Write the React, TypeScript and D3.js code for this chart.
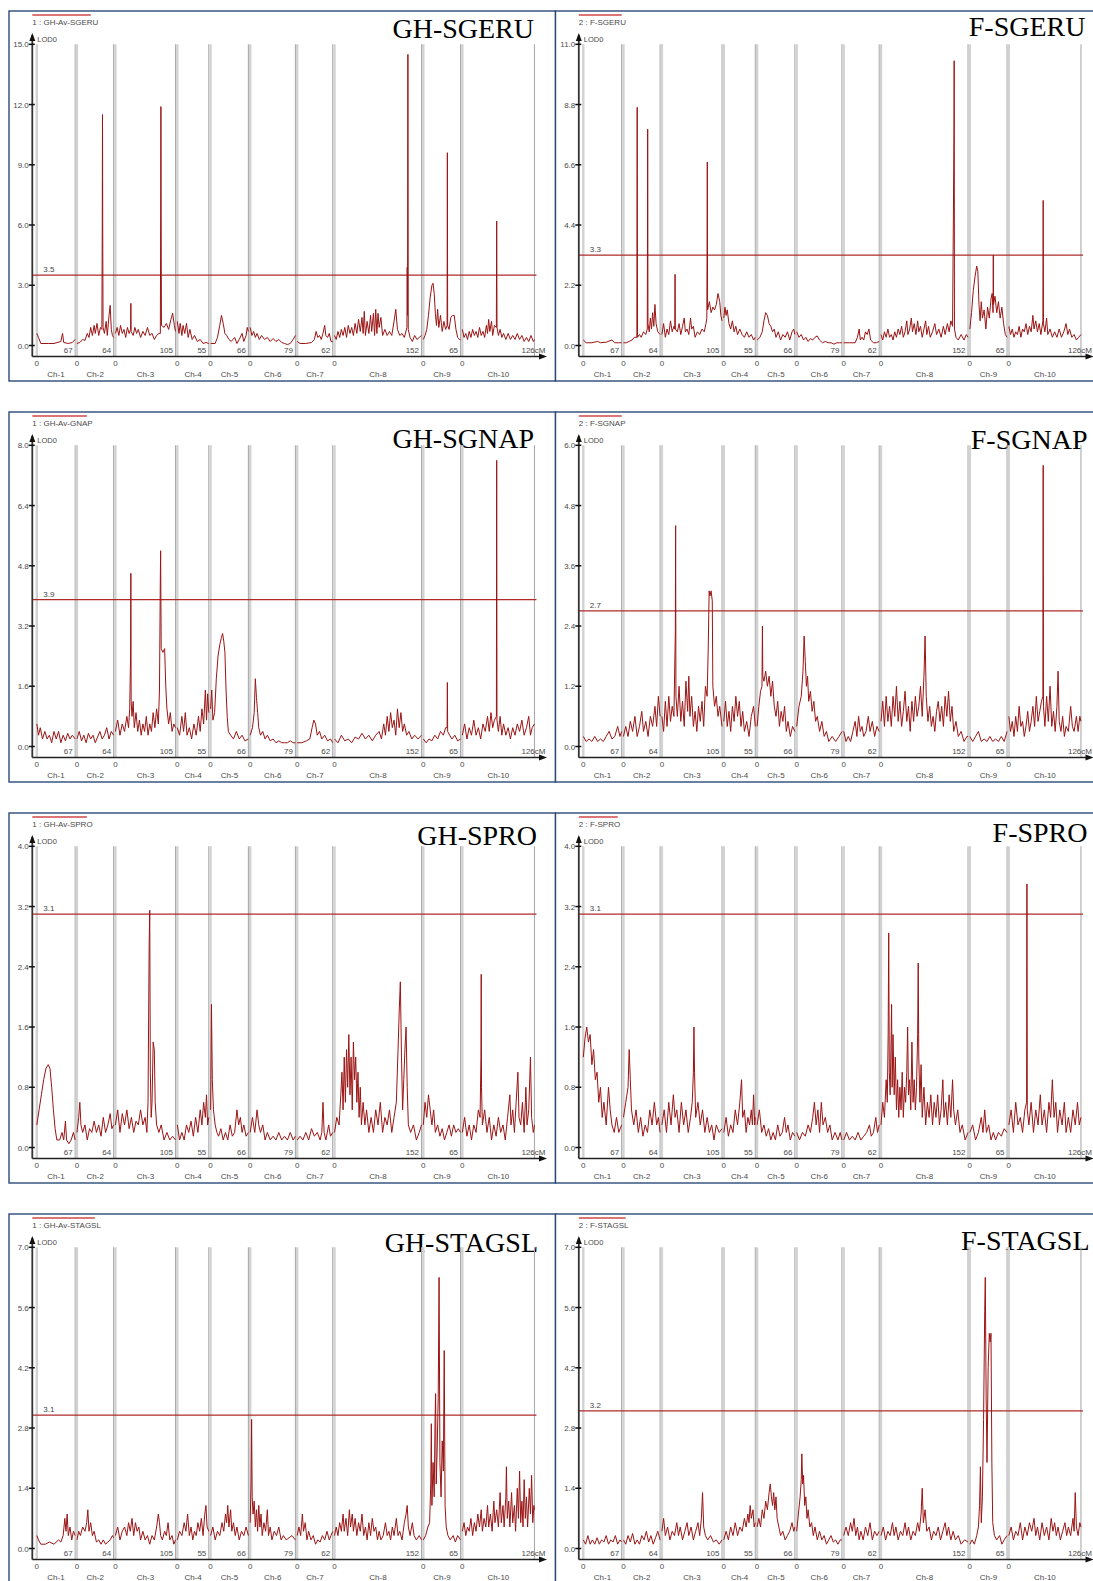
import * as d3 from "d3";

// chromosome map (cM) shared by all panels
const chromLengths = [67, 64, 105, 55, 66, 79, 62, 152, 65, 126];
const chromNames = ["Ch-1", "Ch-2", "Ch-3", "Ch-4", "Ch-5", "Ch-6", "Ch-7", "Ch-8", "Ch-9", "Ch-10"];

const panelTitles = ["GH-SGERU", "F-SGERU", "GH-SGNAP", "F-SGNAP", "GH-SPRO", "F-SPRO", "GH-STAGSL", "F-STAGSL"];
const traitLabels = [
  "1 : GH-Av-SGERU", "2 : F-SGERU", "1 : GH-Av-GNAP", "2 : F-SGNAP",
  "1 : GH-Av-SPRO", "2 : F-SPRO", "1 : GH-Av-STAGSL", "2 : F-STAGSL",
];
const lodMax = [15, 11, 8, 6, 4, 4, 7, 7];
const lodThresholds = [3.5, 3.3, 3.9, 2.7, 3.1, 3.1, 3.1, 3.2];

// LOD profiles: per chromosome, flat list of (position cM, LOD) pairs
const ghSgeru: number[][] = [
  [0,0.6, 3,0.4, 7,0.1, 20,0.1, 30,0.1, 42,0.2, 45,0.6, 47,0.15, 55,0.1, 62,0.15, 67,0.3],
  [0,0.1, 5,0.15, 10,0.3, 14,0.25, 18,0.6, 21,0.4, 24,0.9, 27,0.5, 30,1.0, 32,0.6, 35,1.1, 38,0.5, 41,0.9, 43.5,0.8, 44.2,5.8, 44.6,11.5, 45,5.8, 45.6,0.9, 48,0.6, 51,1.2, 53,0.5, 56,1.5, 58,2.0, 60,0.8, 62,0.5, 64,0.4],
  [0,0.6, 3,0.9, 6,0.5, 9,1.0, 12,0.6, 15,0.8, 18,0.4, 21,0.9, 24,0.6, 26.5,0.8, 27,2.1, 27.5,0.7, 31,0.5, 34,0.9, 37,0.6, 40,0.8, 44,0.4, 48,0.7, 52,0.5, 56,0.9, 60,0.5, 64,0.6, 68,0.3, 72,0.5, 76,0.6, 78.5,0.6, 79.1,6.3, 79.5,11.9, 79.9,6.3, 80.5,1.0, 85,0.9, 89,1.1, 93,0.8, 97,1.3, 100,1.6, 103,1.0, 105,0.7],
  [0,1.2, 3,0.6, 5,1.1, 8,0.5, 10,1.0, 13,0.6, 16,1.1, 19,0.4, 22,0.8, 26,0.3, 30,0.5, 35,0.2, 40,0.3, 45,0.1, 50,0.15, 55,0.1],
  [0,0.1, 8,0.1, 12,0.4, 16,1.0, 19,1.5, 22,1.1, 25,0.6, 28,0.5, 32,0.3, 36,0.2, 42,0.4, 46,0.1, 50,0.3, 55,0.6, 58,0.2, 62,0.5, 64,0.9, 66,0.7],
  [0,0.9, 3,0.5, 6,0.7, 9,0.4, 12,0.6, 16,0.3, 20,0.5, 25,0.3, 30,0.4, 35,0.2, 40,0.35, 45,0.2, 50,0.3, 55,0.15, 60,0.1, 65,0.05, 70,0.1, 75,0.3, 79,0.5],
  [0,0.2, 5,0.1, 15,0.1, 25,0.15, 30,0.3, 33,0.7, 36,0.4, 39,0.5, 42,0.3, 45,0.6, 48,1.0, 50,0.5, 53,0.4, 56,0.6, 59,0.2, 62,0.2],
  [0,0.5, 3,0.3, 6,0.7, 9,0.4, 12,0.8, 15,0.5, 18,0.9, 21,0.4, 24,1.0, 27,0.6, 30,0.9, 33,0.5, 36,1.1, 39,0.6, 42,1.3, 45,0.7, 48,1.4, 50,0.6, 52,1.7, 54,0.5, 57,1.2, 60,0.6, 63,1.5, 65,0.7, 68,1.6, 70,0.5, 72,1.8, 74,0.6, 76,1.6, 78,0.9, 81,1.4, 84,0.5, 88,0.8, 92,0.5, 96,0.7, 100,0.5, 104,1.2, 107,1.8, 110,0.8, 114,0.5, 118,0.6, 122,0.4, 126.5,0.9, 127,3.9, 127.6,1.5, 128.2,14.5, 128.8,0.8, 132,0.4, 136,0.2, 140,0.5, 144,0.3, 148,0.4, 152,0.5],
  [0,0.3, 3,0.5, 6,0.8, 9,1.5, 12,2.4, 15,3.0, 17,3.1, 19,2.6, 21,1.6, 23,1.0, 25,1.8, 27,0.9, 30,1.5, 33,0.7, 36,1.2, 39,0.8, 41.5,1.0, 42,9.6, 42.5,1.0, 45,0.8, 48,1.4, 51,1.5, 54,1.5, 57,0.8, 60,0.4, 63,0.3, 65,0.3],
  [0,0.8, 3,0.4, 6,0.6, 9,0.3, 12,0.7, 15,0.4, 18,0.8, 21,0.5, 24,0.7, 27,0.4, 30,0.9, 33,0.5, 36,0.7, 39,0.4, 42,1.0, 44,0.6, 46,1.3, 48,0.7, 51,1.2, 53,0.5, 56,1.0, 59.4,0.9, 60,6.2, 60.6,0.9, 63,0.5, 66,0.8, 69,0.4, 72,0.6, 76,0.3, 80,0.6, 84,0.3, 88,0.5, 92,0.3, 96,0.6, 100,0.3, 104,0.5, 108,0.2, 112,0.4, 116,0.2, 120,0.5, 124,0.2, 126,0.3],
];

const fSgeru: number[][] = [
  [0,0.2, 5,0.1, 15,0.1, 25,0.15, 30,0.1, 40,0.12, 50,0.2, 55,0.1, 62,0.1, 67,0.1],
  [0,0.1, 5,0.1, 10,0.15, 15,0.2, 19,0.3, 23.4,0.3, 24,8.7, 24.6,0.3, 28,0.4, 31,0.3, 35,0.5, 39,0.4, 41.6,0.6, 42,4.0, 42.3,7.9, 42.8,0.8, 45,0.5, 47,1.0, 49,0.6, 51,1.2, 53,0.7, 55,1.5, 57,0.8, 60,0.5, 64,0.4],
  [0,0.4, 3,0.8, 6,0.3, 9,0.6, 12,0.4, 15,0.9, 18,0.5, 21,0.7, 22.5,0.6, 23,2.6, 23.5,0.6, 27,0.5, 30,0.8, 33,0.4, 36,0.7, 39,1.0, 41,0.5, 44,0.6, 47,0.4, 50,1.0, 52,0.6, 55,0.7, 58,0.3, 62,0.5, 66,0.4, 70,0.6, 74,0.5, 77,0.8, 78.5,1.0, 79,4.0, 79.3,6.7, 79.8,1.3, 83,1.6, 86,1.2, 89,1.4, 92,1.3, 95,1.5, 98,1.9, 101,1.6, 103,1.1, 105,0.9],
  [0,1.0, 2,1.4, 4,1.1, 6,1.3, 9,0.8, 12,0.6, 15,0.9, 18,0.5, 21,0.7, 24,0.4, 28,0.6, 32,0.4, 36,0.3, 40,0.5, 44,0.3, 48,0.4, 52,0.2, 55,0.3],
  [0,0.2, 5,0.3, 9,0.5, 12,0.9, 15,1.2, 18,1.1, 21,0.8, 24,0.7, 27,0.5, 30,0.6, 33,0.3, 37,0.5, 41,0.2, 45,0.4, 49,0.3, 53,0.5, 57,0.2, 61,0.5, 64,0.6, 66,0.4],
  [0,0.5, 4,0.3, 8,0.4, 12,0.2, 16,0.3, 20,0.15, 24,0.25, 28,0.2, 32,0.3, 36,0.35, 40,0.2, 45,0.1, 50,0.15, 55,0.1, 60,0.1, 65,0.05, 70,0.1, 75,0.1, 79,0.1],
  [0,0.1, 10,0.1, 20,0.1, 24,0.3, 27,0.6, 29,0.2, 32,0.3, 35,0.2, 38,0.5, 41,0.4, 44,0.6, 47,0.2, 52,0.1, 57,0.1, 62,0.15],
  [0,0.4, 3,0.2, 6,0.5, 9,0.3, 12,0.6, 15,0.3, 18,0.4, 21,0.2, 24,0.5, 27,0.3, 30,0.6, 33,0.4, 36,0.7, 39,0.3, 42,0.5, 45,0.9, 47,0.4, 50,0.6, 53,1.0, 55,0.5, 58,0.8, 61,0.4, 64,0.9, 66,0.5, 69,0.7, 72,0.3, 75,0.6, 78,0.9, 80,0.4, 83,0.7, 86,0.3, 90,0.5, 94,0.8, 97,0.4, 101,0.6, 105,0.3, 109,0.7, 112,0.4, 116,0.8, 119,0.5, 122,0.9, 125,0.7, 127.5,7.8, 127.8,10.4, 128.3,0.6, 131,0.3, 135,0.2, 140,0.4, 145,0.2, 149,0.4, 152,0.3],
  [0,0.6, 3,1.2, 6,2.0, 9,2.5, 12,2.9, 14,2.7, 16,1.5, 18,0.9, 20,1.6, 22,1.0, 25,1.3, 28,0.6, 31,1.4, 34,1.0, 37,1.7, 39,1.9, 40.6,1.2, 41,3.3, 41.4,1.5, 44,1.8, 47,1.2, 50,1.6, 53,1.0, 56,1.4, 59,0.8, 62,0.4, 65,0.3],
  [0,0.7, 3,0.4, 6,0.6, 9,0.3, 12,0.5, 15,0.4, 18,0.7, 21,0.3, 24,0.6, 27,0.5, 30,0.8, 33,0.4, 36,0.7, 39,0.5, 42,1.1, 44,0.6, 47,0.9, 50,0.5, 53,0.8, 56,0.4, 59.5,0.9, 60,5.3, 60.5,0.8, 63,0.5, 66,1.0, 68,0.4, 72,0.6, 76,0.3, 80,0.5, 84,0.3, 88,0.6, 92,0.3, 96,0.5, 100,0.8, 103,0.4, 106,0.6, 110,0.3, 114,0.4, 118,0.2, 122,0.3, 126,0.4],
];

const ghSgnap: number[][] = [
  [0,0.6, 3,0.3, 6,0.5, 10,0.2, 14,0.4, 18,0.2, 22,0.3, 26,0.1, 30,0.4, 34,0.2, 38,0.4, 42,0.1, 46,0.3, 50,0.15, 54,0.35, 58,0.2, 62,0.3, 67,0.2],
  [0,0.2, 4,0.4, 8,0.15, 12,0.3, 16,0.1, 20,0.35, 24,0.2, 28,0.3, 32,0.1, 36,0.25, 40,0.4, 44,0.2, 48,0.3, 52,0.5, 56,0.2, 60,0.4, 64,0.3],
  [0,0.4, 4,0.7, 8,0.3, 12,0.6, 16,0.4, 20,0.8, 23,0.5, 25,1.0, 26.5,2.4, 27,4.6, 27.5,1.2, 29,0.8, 31,1.2, 33,0.5, 36,0.9, 39,0.4, 42,0.7, 45,0.3, 48,0.6, 51,0.4, 54,0.8, 57,0.3, 60,0.6, 63,0.4, 66,0.9, 69,0.5, 72,1.0, 75,0.6, 77,1.5, 78.5,4.5, 79,5.2, 80,2.6, 83,2.5, 86,2.6, 88,1.6, 90,1.0, 93,0.6, 96,0.9, 99,0.4, 102,0.6, 105,0.5],
  [0,0.5, 4,0.3, 8,0.8, 11,0.4, 14,0.9, 17,0.3, 21,0.5, 25,0.2, 29,0.6, 33,0.3, 37,0.8, 40,0.4, 43,1.0, 46,0.6, 49,1.5, 51,0.7, 53,1.4, 55,0.9],
  [0,1.0, 2,1.5, 4,0.7, 7,0.9, 10,1.8, 13,2.4, 16,2.7, 19,2.9, 21,3.0, 23,2.8, 25,2.5, 27,1.5, 29,0.8, 31,0.4, 35,0.3, 40,0.2, 45,0.4, 50,0.2, 55,0.3, 60,0.15, 66,0.2],
  [0,0.3, 4,0.5, 7,0.9, 9,1.8, 11,1.3, 13,0.9, 15,0.5, 18,0.3, 22,0.4, 26,0.2, 30,0.3, 35,0.15, 40,0.2, 45,0.1, 50,0.15, 55,0.1, 60,0.1, 65,0.1, 70,0.15, 75,0.1, 79,0.1],
  [0,0.1, 8,0.1, 16,0.15, 22,0.2, 26,0.5, 29,0.7, 32,0.6, 35,0.3, 39,0.4, 43,0.2, 48,0.3, 53,0.15, 58,0.2, 62,0.1],
  [0,0.2, 6,0.1, 12,0.3, 18,0.15, 24,0.2, 30,0.1, 36,0.25, 42,0.2, 48,0.35, 54,0.2, 60,0.3, 66,0.15, 72,0.3, 78,0.4, 82,0.2, 86,0.6, 89,0.3, 92,0.8, 95,0.4, 98,0.9, 101,0.5, 104,0.7, 107,0.3, 110,1.0, 113,0.5, 116,0.9, 119,0.4, 122,0.6, 126,0.3, 130,0.4, 135,0.2, 140,0.3, 146,0.2, 152,0.3],
  [0,0.2, 5,0.1, 10,0.2, 15,0.15, 20,0.3, 25,0.2, 30,0.4, 35,0.3, 39,0.5, 41.5,0.5, 42,1.7, 42.5,0.4, 46,0.3, 50,0.2, 55,0.3, 60,0.15, 65,0.2],
  [0,0.3, 4,0.6, 8,0.2, 12,0.5, 16,0.3, 20,0.7, 24,0.3, 28,0.5, 32,0.2, 36,0.6, 40,0.4, 44,0.8, 47,0.4, 50,0.9, 53,0.5, 56,0.7, 59.5,0.8, 60,7.6, 60.5,0.7, 63,0.4, 66,0.8, 69,0.3, 72,0.6, 76,0.3, 80,0.5, 84,0.2, 88,0.5, 92,0.3, 96,0.6, 100,0.4, 104,0.7, 108,0.3, 112,0.5, 116,0.8, 119,0.3, 122,0.5, 126,0.6],
];

const fSgnap: number[][] = [
  [0,0.2, 5,0.1, 10,0.15, 15,0.1, 20,0.2, 25,0.1, 30,0.15, 35,0.1, 40,0.2, 45,0.3, 50,0.15, 55,0.2, 60,0.4, 64,0.2, 67,0.3],
  [0,0.2, 4,0.4, 8,0.2, 12,0.5, 16,0.3, 20,0.6, 24,0.2, 28,0.4, 32,0.7, 35,0.3, 39,0.5, 43,0.2, 47,0.6, 51,0.4, 55,0.8, 58,0.4, 61,1.0, 64,0.6],
  [0,0.6, 3,0.3, 6,0.9, 9,0.4, 12,1.0, 15,0.5, 18,0.8, 21,0.6, 23.5,2.3, 24,4.4, 24.5,1.0, 27,0.6, 30,1.2, 33,0.5, 36,0.9, 39,0.4, 42,1.3, 45,0.7, 47,1.4, 49,0.6, 52,1.0, 55,0.4, 58,0.7, 61,0.3, 64,0.8, 67,0.5, 70,0.9, 73,0.4, 76,1.2, 79,1.0, 81,2.0, 82.5,3.1, 84,3.0, 86,3.1, 88,2.9, 89,1.2, 92,0.8, 95,1.0, 98,0.6, 101,0.8, 105,0.4],
  [0,0.5, 3,0.9, 6,0.4, 9,0.7, 12,0.3, 15,0.8, 18,0.5, 21,1.0, 24,0.6, 27,0.9, 30,0.4, 33,0.7, 36,0.3, 40,0.5, 44,0.2, 48,0.6, 52,0.8, 55,0.4],
  [0,0.4, 3,0.8, 6,1.1, 8.5,1.2, 9.3,2.4, 10,1.4, 12,1.3, 15,1.5, 18,1.2, 21,1.4, 24,1.0, 27,1.3, 30,0.8, 33,0.6, 36,0.9, 39,0.4, 42,0.7, 45,0.5, 48,0.8, 51,0.3, 54,0.5, 58,0.2, 62,0.4, 66,0.3],
  [0,0.4, 4,0.8, 8,1.0, 11,1.5, 13,2.2, 15,1.7, 17,1.2, 19,1.4, 21,0.9, 24,1.1, 27,0.7, 30,0.9, 33,0.5, 36,0.6, 40,0.3, 44,0.5, 48,0.2, 52,0.3, 56,0.1, 62,0.2, 68,0.1, 74,0.2, 79,0.3],
  [0,0.3, 4,0.1, 8,0.2, 12,0.1, 16,0.3, 20,0.5, 23,0.2, 26,0.6, 29,0.3, 32,0.4, 35,0.2, 39,0.3, 43,0.6, 46,0.3, 50,0.5, 54,0.2, 58,0.4, 62,0.3],
  [0,0.5, 3,0.9, 6,0.4, 9,1.0, 12,0.5, 15,0.8, 18,0.4, 21,1.0, 24,0.6, 27,1.2, 30,0.5, 33,0.9, 36,0.4, 39,0.7, 42,1.1, 45,0.5, 48,0.8, 51,0.3, 54,0.9, 57,0.5, 60,1.0, 63,0.6, 66,0.8, 69,1.2, 72,0.6, 75,1.4, 77,2.2, 79,1.0, 82,0.5, 85,0.8, 88,0.4, 91,0.6, 94,0.3, 97,0.7, 100,0.9, 103,0.5, 106,0.8, 109,0.4, 112,1.0, 115,0.6, 118,1.1, 121,0.5, 124,0.8, 127,0.3, 131,0.5, 135,0.2, 140,0.3, 145,0.1, 150,0.2, 152,0.2],
  [0,0.2, 5,0.1, 10,0.2, 15,0.3, 20,0.1, 25,0.15, 30,0.1, 35,0.2, 40,0.1, 45,0.15, 50,0.1, 55,0.2, 60,0.1, 65,0.3],
  [0,0.6, 3,0.3, 6,0.5, 9,0.2, 12,0.6, 15,0.3, 18,0.8, 21,0.4, 24,0.5, 27,0.2, 30,0.4, 33,0.7, 36,0.3, 39,0.5, 42,0.8, 45,0.4, 48,1.0, 51,0.5, 54,0.7, 57,0.9, 59.5,1.0, 60,5.6, 60.5,0.8, 63,0.4, 66,1.0, 69,0.5, 72,1.2, 75,0.4, 78,0.7, 81,0.3, 84,0.8, 86,1.5, 88,0.5, 91,0.3, 94,0.6, 97,0.2, 100,0.4, 104,0.3, 108,0.8, 111,0.4, 114,0.3, 118,0.6, 121,0.3, 124,0.6, 126,0.5],
];

const ghSpro: number[][] = [
  [0,0.3, 4,0.5, 8,0.7, 12,0.9, 16,1.05, 20,1.1, 23,1.05, 26,0.8, 29,0.5, 32,0.25, 35,0.1, 40,0.1, 44,0.2, 47,0.1, 50,0.35, 52,0.1, 56,0.05, 60,0.1, 64,0.2, 67,0.1],
  [0,0.2, 3,0.4, 5,0.6, 7,0.3, 10,0.2, 14,0.3, 18,0.1, 22,0.25, 26,0.2, 30,0.35, 34,0.2, 38,0.3, 42,0.15, 46,0.4, 50,0.2, 54,0.3, 58,0.45, 61,0.25, 64,0.3],
  [0,0.3, 4,0.5, 8,0.2, 12,0.45, 16,0.3, 20,0.5, 24,0.25, 28,0.4, 32,0.2, 36,0.35, 40,0.3, 44,0.5, 48,0.3, 52,0.4, 55,0.2, 57,0.6, 59,2.7, 60,3.15, 61,1.0, 62.5,0.4, 64,0.6, 66,1.4, 68,1.3, 69.5,0.6, 72,0.3, 76,0.2, 80,0.3, 85,0.1, 90,0.2, 95,0.1, 100,0.15, 105,0.1],
  [0,0.3, 4,0.1, 8,0.2, 12,0.1, 16,0.3, 20,0.2, 24,0.35, 28,0.15, 32,0.4, 36,0.2, 40,0.5, 43,0.3, 46,0.6, 49,0.4, 51,0.7, 53,0.3, 55,0.4],
  [0,0.5, 1.5,1.9, 3,0.9, 5,0.5, 8,0.3, 11,0.2, 14,0.15, 18,0.25, 22,0.1, 26,0.2, 30,0.1, 34,0.3, 38,0.15, 42,0.2, 46,0.5, 49,0.3, 52,0.4, 55,0.2, 58,0.3, 62,0.15, 66,0.2],
  [0,0.2, 4,0.4, 8,0.2, 12,0.5, 15,0.3, 18,0.2, 22,0.3, 26,0.1, 30,0.2, 35,0.1, 40,0.15, 45,0.1, 50,0.2, 55,0.1, 60,0.15, 65,0.1, 70,0.2, 75,0.1, 79,0.15],
  [0,0.1, 5,0.15, 10,0.1, 15,0.2, 20,0.1, 25,0.25, 30,0.15, 35,0.2, 40,0.1, 43,0.2, 45,0.6, 47,0.2, 50,0.1, 55,0.3, 58,0.15, 62,0.2],
  [0,0.2, 4,0.4, 8,0.3, 11,0.7, 13,1.0, 15,0.5, 17,1.2, 19,0.6, 21,1.3, 23,0.8, 25,1.5, 27,0.7, 29,1.2, 31,0.5, 33,1.4, 35,0.9, 37,1.2, 39,0.6, 41,1.0, 43,0.4, 45,0.8, 47,0.3, 50,0.6, 53,0.3, 56,0.5, 60,0.2, 64,0.4, 68,0.2, 72,0.5, 76,0.3, 80,0.6, 84,0.2, 88,0.4, 92,0.3, 96,0.5, 100,0.2, 104,0.4, 108,0.6, 111,1.3, 113,1.8, 115,2.2, 117,1.2, 119,0.5, 121,0.9, 123,1.3, 125,1.6, 127,0.8, 129,0.3, 133,0.2, 138,0.3, 143,0.1, 148,0.2, 152,0.3],
  [0,0.3, 3,0.6, 6,0.4, 9,0.7, 12,0.5, 15,0.3, 18,0.5, 21,0.2, 25,0.3, 29,0.15, 33,0.25, 37,0.1, 41,0.2, 45,0.3, 49,0.15, 53,0.3, 57,0.2, 61,0.25, 65,0.2],
  [0,0.2, 4,0.4, 8,0.15, 12,0.3, 16,0.1, 20,0.3, 24,0.2, 28,0.5, 31,0.4, 32.5,1.2, 33,2.3, 33.5,0.8, 35,0.3, 39,0.5, 43,0.2, 47,0.4, 51,0.1, 55,0.3, 59,0.15, 63,0.4, 67,0.2, 71,0.3, 75,0.1, 79,0.4, 83,0.7, 85,0.3, 88,0.5, 91,0.2, 94,0.6, 97,1.0, 99,0.4, 102,0.3, 105,0.6, 108,0.2, 111,0.8, 113,0.3, 116,0.5, 119,1.2, 121,0.4, 124,0.2, 126,0.3],
];

const fSpro: number[][] = [
  [0,1.2, 3,1.45, 6,1.6, 9,1.4, 12,1.5, 15,1.1, 18,1.3, 21,0.9, 24,1.0, 27,0.6, 30,0.8, 33,0.4, 36,0.6, 40,0.3, 44,0.8, 47,0.5, 50,0.3, 54,0.2, 58,0.4, 62,0.2, 67,0.3],
  [0,0.4, 4,0.6, 8,0.8, 10,1.3, 12,0.9, 14,0.5, 18,0.3, 22,0.5, 26,0.2, 30,0.4, 34,0.15, 38,0.3, 42,0.2, 46,0.5, 50,0.3, 54,0.6, 58,0.3, 61,0.4, 64,0.2],
  [0,0.3, 4,0.5, 8,0.2, 12,0.6, 16,0.3, 20,0.7, 23,0.4, 26,0.5, 30,0.2, 34,0.6, 38,0.3, 42,0.5, 46,0.2, 50,0.4, 53,0.6, 55,1.0, 56,1.6, 57,1.0, 59,0.4, 63,0.6, 67,0.3, 71,0.5, 75,0.2, 79,0.4, 83,0.2, 87,0.3, 91,0.1, 95,0.3, 100,0.2, 105,0.25],
  [0,0.2, 4,0.4, 8,0.15, 12,0.3, 16,0.2, 20,0.5, 24,0.3, 28,0.6, 31,0.9, 33,0.4, 36,0.5, 39,0.2, 42,0.4, 45,0.3, 48,0.5, 50,0.3, 52,0.7, 54,0.3, 55,0.4],
  [0,0.3, 4,0.5, 8,0.2, 12,0.3, 16,0.15, 20,0.25, 24,0.1, 28,0.2, 32,0.1, 36,0.3, 40,0.15, 44,0.2, 48,0.4, 51,0.2, 54,0.3, 58,0.1, 62,0.2, 66,0.15],
  [0,0.2, 5,0.1, 10,0.2, 15,0.15, 20,0.3, 24,0.2, 28,0.4, 31,0.6, 34,0.3, 37,0.5, 40,0.2, 43,0.6, 46,0.3, 50,0.4, 54,0.2, 58,0.3, 62,0.1, 67,0.2, 72,0.1, 76,0.2, 79,0.1],
  [0,0.1, 5,0.2, 10,0.1, 15,0.15, 20,0.1, 25,0.2, 30,0.1, 35,0.15, 40,0.2, 45,0.3, 48,0.15, 52,0.2, 56,0.4, 59,0.2, 62,0.3],
  [0,0.3, 3,0.6, 6,0.4, 9,0.9, 11,0.6, 12.5,1.5, 13.5,2.85, 14.5,1.0, 16,0.7, 17.5,1.4, 18.5,1.9, 19.5,0.8, 21,1.5, 23,0.7, 25,1.2, 27,0.5, 29,0.9, 31,0.4, 33,0.8, 35,0.5, 37,1.0, 39,0.4, 41,0.8, 43,0.6, 45,1.0, 46.5,1.6, 48,0.7, 50,0.9, 52,0.5, 54,1.4, 56,0.6, 58,0.9, 60,0.5, 62,0.8, 64,1.5, 65,2.45, 66,1.2, 68,0.6, 70,1.1, 72,0.4, 75,0.8, 78,0.3, 81,0.6, 84,0.4, 87,0.7, 90,0.3, 93,0.6, 96,0.4, 99,0.7, 102,0.3, 105,0.5, 108,0.9, 110,0.4, 113,0.6, 116,0.3, 119,0.7, 122,0.4, 125,0.9, 127,0.5, 130,0.3, 134,0.5, 138,0.2, 142,0.3, 147,0.1, 152,0.2],
  [0,0.2, 5,0.3, 10,0.1, 15,0.2, 20,0.4, 23,0.2, 26,0.5, 29,0.2, 33,0.3, 37,0.1, 41,0.2, 45,0.1, 50,0.2, 55,0.15, 60,0.25, 65,0.2],
  [0,0.3, 4,0.5, 8,0.2, 12,0.6, 16,0.3, 20,0.4, 24,0.2, 28,0.5, 31,0.6, 31.6,3.5, 32.2,0.5, 35,0.3, 39,0.6, 43,0.2, 47,0.5, 51,0.3, 55,0.7, 58,0.3, 62,0.5, 66,0.2, 70,0.6, 73,0.4, 76,0.9, 79,0.4, 82,0.6, 85,0.2, 89,0.5, 93,0.3, 97,0.6, 100,0.2, 104,0.4, 108,0.2, 112,0.5, 116,0.3, 120,0.6, 123,0.3, 126,0.4],
];

const ghStagsl: number[][] = [
  [0,0.3, 3,0.2, 7,0.1, 15,0.1, 22,0.15, 30,0.1, 38,0.2, 42,0.15, 46,0.3, 49,0.7, 51,0.4, 53,0.8, 55,0.3, 58,0.5, 61,0.2, 64,0.4, 67,0.3],
  [0,0.2, 3,0.4, 6,0.3, 10,0.5, 14,0.4, 17,0.6, 19,0.9, 21,0.4, 24,0.6, 27,0.3, 30,0.4, 34,0.15, 38,0.2, 42,0.1, 46,0.2, 50,0.1, 54,0.15, 58,0.2, 62,0.3, 64,0.25],
  [0,0.3, 4,0.5, 8,0.2, 12,0.4, 16,0.5, 20,0.3, 23,0.6, 26,0.4, 29,0.7, 32,0.3, 35,0.6, 38,0.4, 41,0.5, 44,0.2, 48,0.4, 52,0.2, 56,0.3, 60,0.1, 64,0.3, 68,0.2, 72,0.5, 75,0.8, 77,0.6, 79,0.3, 82,0.2, 86,0.4, 89,0.3, 92,0.6, 95,0.2, 99,0.3, 102,0.1, 105,0.2],
  [0,0.2, 4,0.4, 8,0.3, 12,0.6, 15,0.4, 18,0.8, 21,0.3, 24,0.5, 27,0.2, 30,0.4, 33,0.3, 36,0.6, 39,0.4, 42,0.7, 45,0.3, 48,0.8, 50,1.0, 52,0.5, 55,0.4],
  [0,0.3, 4,0.5, 8,0.2, 12,0.4, 16,0.3, 20,0.6, 23,0.4, 26,0.8, 28,0.6, 30,1.0, 32,0.5, 35,0.9, 37,0.4, 40,0.6, 43,0.3, 46,0.5, 50,0.2, 54,0.4, 58,0.3, 62,0.5, 66,0.3],
  [0,0.6, 1.5,1.5, 2.5,3.0, 3.5,1.2, 5,0.8, 7,1.1, 9,0.5, 11,0.9, 13,0.4, 15,1.0, 17,0.5, 19,0.8, 21,0.3, 24,0.6, 27,0.4, 30,0.9, 32,0.3, 35,0.5, 38,0.2, 42,0.4, 46,0.3, 50,0.5, 54,0.2, 58,0.3, 63,0.2, 68,0.25, 73,0.3, 79,0.2],
  [0,0.3, 3,0.5, 6,0.3, 9,0.8, 11,0.4, 14,0.6, 17,0.2, 20,0.4, 24,0.2, 28,0.3, 32,0.1, 36,0.2, 40,0.15, 44,0.3, 48,0.2, 52,0.4, 56,0.2, 59,0.3, 62,0.4],
  [0,0.3, 3,0.5, 6,0.3, 9,0.6, 12,0.4, 15,0.8, 17,0.4, 20,0.7, 23,0.3, 26,0.9, 28,0.5, 31,0.8, 33,0.4, 36,0.7, 39,0.3, 42,0.6, 45,0.4, 48,0.8, 51,0.3, 54,0.5, 57,0.2, 60,0.6, 63,0.3, 66,0.7, 69,0.4, 72,0.5, 75,0.2, 78,0.4, 81,0.2, 85,0.3, 89,0.6, 92,0.3, 95,0.4, 98,0.2, 101,0.5, 104,0.3, 108,0.7, 111,0.3, 114,0.4, 118,0.2, 122,0.6, 125,0.8, 127,1.0, 129,0.5, 132,0.3, 136,0.6, 139,0.3, 143,0.2, 148,0.3, 152,0.2],
  [0,0.2, 4,0.3, 8,0.5, 11,0.6, 13,1.5, 14,2.9, 15,1.0, 17,2.0, 19,1.2, 20.5,3.0, 21.5,3.6, 22.5,1.5, 24,2.2, 26,3.5, 27.5,6.3, 29,2.0, 31,1.2, 33,2.5, 35,1.8, 36.5,4.6, 38,1.0, 40,0.5, 43,0.3, 47,0.2, 52,0.3, 56,0.15, 60,0.3, 65,0.2],
  [0,0.4, 3,0.6, 6,0.3, 9,0.5, 12,0.4, 15,0.7, 18,0.3, 21,0.6, 24,0.4, 27,0.8, 30,0.5, 33,0.9, 35,0.4, 38,0.7, 41,0.5, 44,1.0, 46,0.5, 49,0.8, 52,0.4, 55,1.1, 57,0.6, 60,0.9, 63,0.5, 66,1.3, 68,0.6, 71,1.0, 73,0.5, 76,1.2, 77,1.9, 78.5,0.7, 81,1.1, 83,0.5, 86,1.3, 88,0.6, 91,1.0, 93,0.4, 96,1.4, 98,0.7, 100,1.8, 102,0.6, 104,1.1, 106,0.5, 108,1.6, 110,0.7, 112,1.2, 114,0.5, 117,1.4, 119,0.8, 121,1.7, 123,0.6, 125,1.0, 126,0.9],
];

const fStagsl: number[][] = [
  [0,0.2, 4,0.1, 8,0.3, 12,0.1, 16,0.2, 20,0.1, 24,0.25, 28,0.1, 32,0.2, 36,0.15, 40,0.3, 44,0.1, 48,0.2, 52,0.15, 56,0.3, 60,0.1, 64,0.2, 67,0.15],
  [0,0.2, 4,0.1, 8,0.3, 12,0.15, 16,0.35, 20,0.1, 24,0.2, 28,0.1, 32,0.3, 36,0.2, 40,0.4, 44,0.15, 48,0.3, 52,0.1, 56,0.25, 60,0.4, 64,0.2],
  [0,0.4, 3,0.7, 6,0.3, 10,0.5, 14,0.2, 18,0.4, 22,0.3, 26,0.6, 29,0.3, 32,0.5, 36,0.2, 40,0.4, 44,0.6, 47,0.3, 51,0.5, 55,0.2, 59,0.4, 63,0.6, 66,0.3, 69,0.7, 71,1.3, 73,0.5, 76,0.3, 80,0.2, 85,0.3, 90,0.15, 95,0.2, 100,0.1, 105,0.2],
  [0,0.2, 4,0.4, 8,0.2, 12,0.5, 16,0.3, 20,0.6, 24,0.3, 28,0.5, 32,0.4, 36,0.7, 39,0.5, 42,0.8, 44,0.6, 46,1.0, 48,0.7, 51,0.9, 53,0.5, 55,0.6],
  [0,0.5, 3,0.7, 6,0.5, 9,0.9, 12,0.7, 15,1.1, 18,0.9, 21,1.3, 23,1.5, 25,1.2, 27,1.0, 29,1.3, 31,0.9, 33,1.2, 35,0.7, 38,0.5, 41,0.3, 45,0.4, 49,0.2, 53,0.3, 57,0.4, 61,0.6, 64,0.4, 66,0.5],
  [0,0.4, 3,0.8, 6,1.2, 8,1.6, 9,2.2, 10.5,1.5, 12,1.7, 14,1.0, 16,1.2, 18,0.7, 20,0.9, 23,0.5, 26,0.6, 29,0.3, 32,0.5, 36,0.2, 40,0.4, 44,0.2, 48,0.3, 52,0.1, 56,0.2, 60,0.3, 64,0.15, 68,0.2, 72,0.1, 76,0.2, 79,0.2],
  [0,0.3, 4,0.5, 8,0.3, 12,0.6, 15,0.4, 18,0.7, 21,0.3, 24,0.5, 27,0.2, 30,0.4, 34,0.2, 38,0.5, 42,0.3, 46,0.6, 50,0.2, 54,0.4, 58,0.3, 62,0.4],
  [0,0.3, 4,0.5, 8,0.2, 12,0.4, 16,0.3, 20,0.6, 23,0.3, 26,0.5, 30,0.2, 34,0.4, 38,0.3, 42,0.6, 45,0.3, 48,0.5, 52,0.2, 56,0.4, 60,0.3, 64,0.6, 67,0.4, 70,0.8, 72,1.4, 74,0.6, 77,0.9, 80,0.4, 84,0.5, 88,0.2, 92,0.4, 96,0.3, 100,0.5, 104,0.2, 108,0.4, 112,0.6, 115,0.3, 118,0.5, 122,0.2, 126,0.4, 130,0.2, 135,0.3, 140,0.1, 146,0.2, 152,0.15],
  [0,0.1, 4,0.2, 8,0.1, 12,0.3, 15,0.5, 17,1.0, 18.5,1.9, 20,0.6, 22,1.2, 24,3.0, 26,5.5, 27,6.3, 28.5,3.5, 30,2.0, 32,4.2, 34,5.0, 35.5,4.8, 37,5.0, 38.5,2.0, 40,0.6, 43,0.3, 47,0.2, 52,0.3, 56,0.1, 60,0.2, 65,0.3],
  [0,0.3, 4,0.5, 8,0.2, 12,0.4, 16,0.3, 20,0.6, 24,0.2, 28,0.5, 32,0.3, 36,0.6, 40,0.4, 44,0.7, 47,0.3, 50,0.5, 54,0.2, 58,0.6, 62,0.3, 66,0.5, 70,0.2, 74,0.7, 77,0.4, 80,0.6, 83,0.3, 86,0.5, 90,0.2, 94,0.4, 98,0.6, 101,0.3, 104,0.5, 108,0.3, 112,0.7, 114,0.4, 116,1.3, 118,0.5, 121,0.3, 124,0.6, 126,0.5],
];

const profiles = [ghSgeru, fSgeru, ghSgnap, fSgnap, ghSpro, fSpro, ghStagsl, fStagsl];

// layout (px)
const W = 1093;
const H = 1581;
const PANEL_W = 546.5;
const PANEL_H = 370;
const ROW_PITCH = 401;
const LEFT = 9;
const TOP = 11;
const AXIS_X = 23.3;
const CH_X0 = 27.8;
const Y_TOP = 33.3;
const Y_ZERO = 334.5;
const X_AXIS_Y = 345.5;
const ARROW_X = 538;
const GAP = 1.8;
const PX_PER_CM = 0.5725;
// title: right edge and baseline, relative to the panel box
const titlePos: [number, number][] = [
  [525, 27], [530, 25], [525, 36], [532, 37], [528, 32], [532, 29], [529, 38], [534, 36],
];

const SANS = "'Liberation Sans', Arial, Helvetica, sans-serif";
const SERIF = "'Liberation Serif', 'Times New Roman', serif";
const CURVE = "#9b1414";
const THRESH = "#b02a2a";
const LABEL = "#4a4a4a";

const totalCm = d3.sum(chromLengths);
const chromStarts = chromLengths.map((_, i) => d3.sum(chromLengths.slice(0, i)));
const xScale = d3
  .scaleLinear()
  .domain([0, totalCm])
  .range([CH_X0, CH_X0 + totalCm * PX_PER_CM]);
const chromX = (c: number, pos: number) => xScale(chromStarts[c] + pos) + c * GAP;

function Panel({ i }: { i: number }) {
  const x0 = LEFT + (i % 2) * PANEL_W;
  const y0 = TOP + Math.floor(i / 2) * ROW_PITCH;
  const max = lodMax[i];
  const y = d3.scaleLinear().domain([0, max]).range([Y_ZERO, Y_TOP]);
  const ticks = d3.range(6).map((k) => (max * k) / 5);
  const line = d3
    .line<[number, number]>()
    .x((d) => d[0])
    .y((d) => d[1]);
  const last = chromLengths.length - 1;
  const subW = traitLabels[i].length * 3.9;

  return (
    <g transform={`translate(${x0},${y0})`}>
      <rect x={0} y={0} width={PANEL_W} height={PANEL_H} fill="#fff" stroke="#2b4a78" strokeWidth={1.4} />

      {/* trait label */}
      <line x1={AXIS_X} x2={AXIS_X + subW} y1={4} y2={4} stroke="#d04848" strokeWidth={1.4} />
      <text x={AXIS_X} y={13.5} fontFamily={SANS} fontSize={8} fill={LABEL}>
        {traitLabels[i]}
      </text>

      <text
        x={titlePos[i][0]}
        y={titlePos[i][1]}
        textAnchor="end"
        fontFamily={SERIF}
        fontSize={28}
        fill="#000"
      >
        {panelTitles[i]}
      </text>

      {/* chromosome borders */}
      {chromLengths.map((len, c) => (
        <g key={`sep${c}`}>
          <line x1={chromX(c, 0)} x2={chromX(c, 0)} y1={Y_TOP} y2={X_AXIS_Y} stroke="#d2d2d2" strokeWidth={2.4} />
          <line x1={chromX(c, len)} x2={chromX(c, len)} y1={Y_TOP} y2={X_AXIS_Y} stroke="#ababab" strokeWidth={1.1} />
        </g>
      ))}

      {/* threshold */}
      <line x1={AXIS_X} x2={chromX(last, chromLengths[last]) + 2} y1={y(lodThresholds[i])} y2={y(lodThresholds[i])} stroke={THRESH} strokeWidth={1.3} />
      <text x={AXIS_X + 11} y={y(lodThresholds[i]) - 3} fontFamily={SANS} fontSize={8} fill="#444">
        {lodThresholds[i].toFixed(1)}
      </text>

      {/* LOD profile */}
      {profiles[i].map((pairs, c) => {
        const pts: [number, number][] = [];
        for (let k = 0; k < pairs.length; k += 2) pts.push([chromX(c, pairs[k]), y(pairs[k + 1])]);
        return <path key={`lod${c}`} d={line(pts) ?? ""} fill="none" stroke={CURVE} strokeWidth={1} strokeLinejoin="round" />;
      })}

      {/* y axis */}
      <line x1={AXIS_X} x2={AXIS_X} y1={24} y2={X_AXIS_Y} stroke="#333" strokeWidth={1.8} />
      <path d={`M${AXIS_X},22 L${AXIS_X - 3},30 L${AXIS_X + 3},30 Z`} fill="#111" />
      <text x={AXIS_X + 5} y={30.5} fontFamily={SANS} fontSize={7.5} fill={LABEL}>
        LOD0
      </text>
      {ticks.map((t) => (
        <g key={`t${t}`}>
          <line x1={AXIS_X - 3.5} x2={AXIS_X + 2.5} y1={y(t)} y2={y(t)} stroke="#111" strokeWidth={1.5} />
          <text x={AXIS_X - 3.5} y={y(t) + 3} textAnchor="end" fontFamily={SANS} fontSize={8} fill={LABEL}>
            {t.toFixed(1)}
          </text>
        </g>
      ))}

      {/* x axis */}
      <line x1={AXIS_X} x2={ARROW_X - 5} y1={X_AXIS_Y} y2={X_AXIS_Y} stroke="#222" strokeWidth={1.6} />
      <path d={`M${ARROW_X},${X_AXIS_Y} L${ARROW_X - 8},${X_AXIS_Y - 3} L${ARROW_X - 8},${X_AXIS_Y + 3} Z`} fill="#111" />
      {chromLengths.map((len, c) => (
        <g key={`lab${c}`} fontFamily={SANS} fontSize={8} fill={LABEL}>
          <text x={chromX(c, 0)} y={X_AXIS_Y + 9} textAnchor="middle">0</text>
          {c === last ? (
            <text x={chromX(c, len) + 11} y={X_AXIS_Y - 3.5} textAnchor="end">{`${len}cM`}</text>
          ) : (
            <text x={chromX(c, len) - 2.5} y={X_AXIS_Y - 3.5} textAnchor="end">{len}</text>
          )}
          <text x={(chromX(c, 0) + chromX(c, len)) / 2} y={X_AXIS_Y + 20.5} textAnchor="middle">
            {chromNames[c]}
          </text>
        </g>
      ))}
    </g>
  );
}

export default function App() {
  return (
    <svg
      width={W}
      height={H}
      viewBox={`0 0 ${W} ${H}`}
      style={{ position: "absolute", left: 0, top: 0, background: "#fff" }}
    >
      <rect width={W} height={H} fill="#fff" />
      {profiles.map((_, i) => (
        <Panel key={i} i={i} />
      ))}
    </svg>
  );
}
